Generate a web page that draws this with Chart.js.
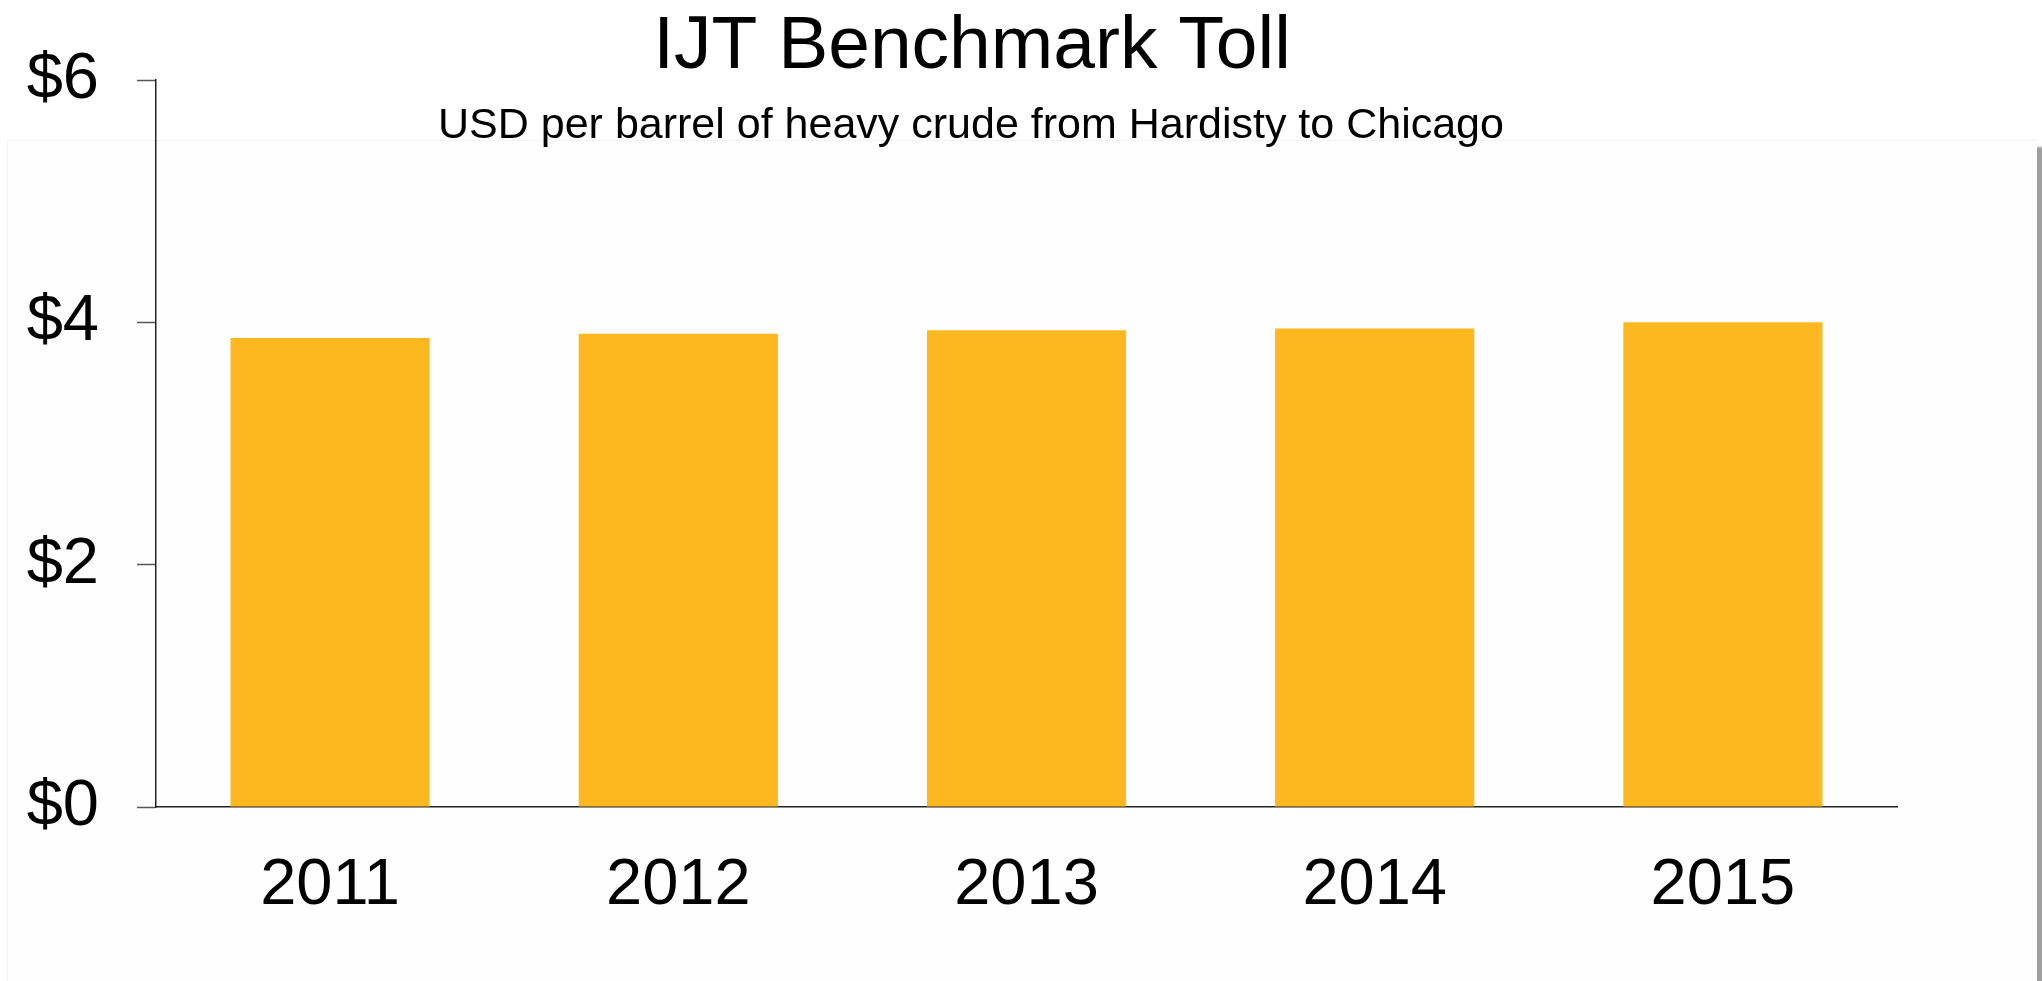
<!DOCTYPE html>
<html>
<head>
<meta charset="utf-8">
<script src="https://cdn.jsdelivr.net/npm/chart.js@4/dist/chart.umd.min.js"></script>
<style>
    html, body { margin: 0; padding: 0; background: #ffffff; overflow: hidden; }
    #wrap { position: relative; width: 2042px; height: 981px; overflow: hidden; }
    /* faint slide panel with a shadow on its right edge */
    #panel {
        position: absolute; left: 7px; top: 140px; width: 2029px; height: 860px;
        background: #fefefe;
        border-top: 1px solid #f2f2f2; border-left: 1px solid #f2f2f2;
        box-shadow: 6px 7px 2px rgba(0, 0, 0, 0.38);
    }
    #tollChart { position: absolute; left: 0; top: 0; }
</style>
</head>
<body>
<div id="wrap">
    <div id="panel"></div>
    <canvas id="tollChart" width="2042" height="981"></canvas>
</div>
<script>
const years = ['2011', '2012', '2013', '2014', '2015'];
const tollUsd = [3.87, 3.905, 3.935, 3.95, 4.00];
const yTicks = [0, 2, 4, 6];

const titleText = 'IJT Benchmark Toll';
const subtitleText = 'USD per barrel of heavy crude from Hardisty to Chicago';

const FONT = '"Liberation Sans", Arial, sans-serif';

// Title and subtitle sit over the top of the plot, so draw them by hand
const headingPlugin = {
    id: 'heading',
    afterDraw(chart) {
        const ctx = chart.ctx;
        ctx.save();
        ctx.fillStyle = '#000';
        ctx.textAlign = 'center';
        ctx.textBaseline = 'alphabetic';
        ctx.font = '75px ' + FONT;
        ctx.fillText(titleText, 972, 68);
        ctx.font = '43px ' + FONT;
        ctx.fillText(subtitleText, 971, 138);
        ctx.restore();
    }
};

const ctx = document.getElementById('tollChart').getContext('2d');
new Chart(ctx, {
    type: 'bar',
    data: {
        labels: years,
        datasets: [{
            label: 'IJT Benchmark Toll',
            data: tollUsd,
            backgroundColor: '#FDB71F',
            borderWidth: 0,
            categoryPercentage: 1,
            barPercentage: 0.572
        }]
    },
    options: {
        responsive: false,
        animation: false,
        layout: {
            padding: { left: 0, right: 145, top: 80, bottom: 0 }
        },
        plugins: {
            legend: { display: false },
            title: { display: false },
            tooltip: { enabled: false }
        },
        scales: {
            x: {
                afterFit: (scale) => { scale.height = 174; },
                grid: { display: false, drawOnChartArea: false, drawTicks: false },
                border: { display: true, color: '#222', width: 1.5 },
                ticks: {
                    color: '#000',
                    padding: 40,
                    font: { family: FONT, size: 65 }
                }
            },
            y: {
                min: 0,
                max: 6,
                afterFit: (scale) => { scale.width = 156; },
                afterBuildTicks: (scale) => {
                    scale.ticks = yTicks.map(v => ({ value: v }));
                },
                grid: {
                    drawOnChartArea: false,
                    drawTicks: true,
                    tickLength: 19,
                    tickColor: '#555',
                    tickWidth: 1.5
                },
                border: { display: true, color: '#222', width: 1.5 },
                ticks: {
                    color: '#000',
                    padding: 38,
                    font: { family: FONT, size: 65 },
                    callback: (v) => '$' + v
                }
            }
        }
    },
    plugins: [headingPlugin]
});
</script>
</body>
</html>
